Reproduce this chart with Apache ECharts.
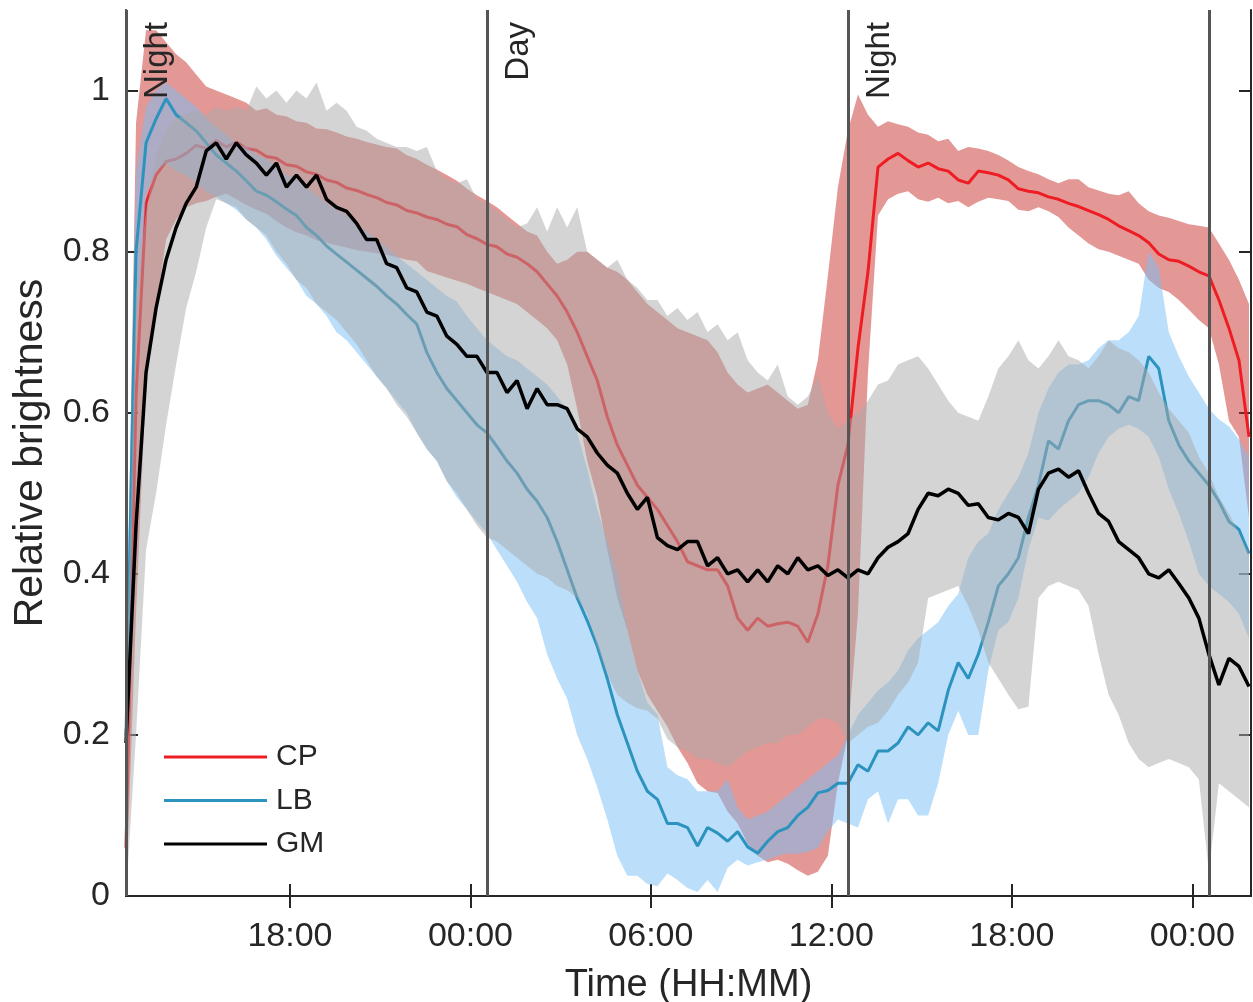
<!DOCTYPE html>
<html><head><meta charset="utf-8">
<script src="https://cdn.jsdelivr.net/npm/echarts@6/dist/echarts.min.js"></script>
<style>html,body{margin:0;padding:0;background:#fff}#c{width:1253px;height:1002px}</style>
</head><body><div id="c"></div>
<script>
// time grid: minutes since midnight of day 1, one sample every 20 min from 12:33
const T0 = 753, STEP = 20, N = 113;
const xMin = 753, xMax = 2997;
const xTickValues = [1080, 1440, 1800, 2160, 2520, 2880];
const xTickLabels = ['18:00', '00:00', '06:00', '12:00', '18:00', '00:00'];
const yTickValues = [0, 0.2, 0.4, 0.6, 0.8, 1];
const transitionTimes = [753, 1473, 2193, 2913];
const transitionLabels = ['Night', 'Day', 'Night', ''];

const cpMean = [0.06,0.62,0.86,0.895,0.912,0.915,0.922,0.932,0.928,0.938,
0.93,0.936,0.928,0.926,0.918,0.916,0.908,0.906,0.899,0.896,
0.889,0.886,0.879,0.876,0.871,0.867,0.861,0.858,0.851,0.848,
0.843,0.84,0.834,0.831,0.821,0.816,0.809,0.806,0.797,0.793,
0.785,0.775,0.76,0.745,0.725,0.70,0.67,0.64,0.595,0.56,
0.535,0.51,0.495,0.48,0.46,0.44,0.415,0.41,0.405,0.405,
0.385,0.345,0.33,0.345,0.335,0.338,0.34,0.335,0.315,0.35,
0.41,0.51,0.56,0.68,0.775,0.905,0.915,0.922,0.913,0.905,
0.91,0.903,0.90,0.889,0.885,0.90,0.898,0.895,0.889,0.878,
0.875,0.873,0.868,0.865,0.86,0.856,0.851,0.846,0.84,0.832,
0.826,0.82,0.811,0.797,0.79,0.788,0.782,0.775,0.77,0.74,
0.705,0.665,0.57];
const cpUp = [0.25,0.96,1.075,1.075,1.06,1.045,1.035,1.02,1.005,1.0,
0.995,0.99,0.985,0.975,0.978,0.97,0.968,0.962,0.96,0.953,
0.952,0.948,0.943,0.94,0.936,0.933,0.93,0.928,0.92,0.915,
0.908,0.902,0.895,0.888,0.878,0.87,0.863,0.855,0.845,0.835,
0.825,0.82,0.80,0.785,0.79,0.80,0.80,0.79,0.78,0.775,
0.765,0.75,0.735,0.725,0.715,0.705,0.70,0.695,0.69,0.675,
0.65,0.635,0.625,0.63,0.635,0.625,0.615,0.605,0.61,0.665,
0.77,0.88,0.95,0.995,0.97,0.955,0.962,0.958,0.955,0.948,
0.945,0.937,0.94,0.925,0.93,0.928,0.925,0.92,0.913,0.905,
0.90,0.896,0.89,0.885,0.89,0.89,0.88,0.876,0.872,0.87,
0.875,0.86,0.85,0.845,0.842,0.838,0.834,0.832,0.83,0.81,
0.79,0.765,0.735];
const cpLo = [0.0,0.35,0.64,0.73,0.815,0.84,0.855,0.86,0.863,0.868,
0.872,0.865,0.858,0.852,0.847,0.838,0.83,0.824,0.82,0.814,
0.811,0.808,0.805,0.802,0.80,0.798,0.796,0.793,0.79,0.788,
0.776,0.772,0.768,0.764,0.76,0.755,0.75,0.745,0.74,0.735,
0.725,0.715,0.705,0.69,0.66,0.605,0.54,0.495,0.43,0.37,
0.33,0.28,0.25,0.23,0.21,0.185,0.165,0.14,0.13,0.128,
0.105,0.09,0.065,0.05,0.042,0.045,0.04,0.032,0.025,0.03,
0.05,0.14,0.2,0.35,0.65,0.845,0.865,0.872,0.875,0.865,
0.862,0.867,0.86,0.863,0.855,0.862,0.867,0.865,0.863,0.852,
0.85,0.855,0.85,0.843,0.83,0.82,0.81,0.803,0.80,0.795,
0.79,0.785,0.765,0.755,0.75,0.74,0.728,0.715,0.705,0.66,
0.59,0.57,0.47];

const lbMean = [0.2,0.80,0.935,0.965,0.99,0.97,0.96,0.95,0.935,0.92,
0.91,0.90,0.888,0.875,0.87,0.862,0.853,0.845,0.83,0.82,
0.807,0.797,0.787,0.777,0.767,0.757,0.745,0.735,0.722,0.71,
0.675,0.65,0.63,0.615,0.60,0.585,0.575,0.558,0.54,0.525,
0.505,0.49,0.47,0.44,0.405,0.37,0.342,0.31,0.27,0.225,
0.19,0.155,0.13,0.12,0.09,0.09,0.085,0.062,0.085,0.078,
0.068,0.08,0.061,0.053,0.068,0.08,0.085,0.1,0.11,0.128,
0.131,0.14,0.14,0.163,0.155,0.18,0.18,0.19,0.21,0.20,
0.215,0.205,0.255,0.29,0.27,0.30,0.34,0.385,0.40,0.42,
0.47,0.51,0.565,0.555,0.59,0.61,0.615,0.615,0.61,0.60,
0.62,0.615,0.67,0.655,0.59,0.56,0.54,0.525,0.51,0.49,
0.465,0.455,0.425];
const lbUp = [0.3,0.90,0.98,1.0,1.01,1.0,0.99,0.98,0.965,0.955,
0.945,0.935,0.93,0.92,0.915,0.905,0.895,0.89,0.88,0.87,
0.86,0.852,0.845,0.835,0.825,0.815,0.805,0.795,0.785,0.775,
0.765,0.755,0.745,0.738,0.72,0.705,0.69,0.68,0.67,0.665,
0.655,0.645,0.635,0.62,0.605,0.575,0.53,0.48,0.44,0.40,
0.33,0.28,0.24,0.225,0.16,0.15,0.145,0.13,0.13,0.13,
0.145,0.11,0.095,0.10,0.105,0.115,0.125,0.135,0.145,0.155,
0.165,0.175,0.2,0.225,0.24,0.255,0.265,0.28,0.305,0.32,
0.33,0.34,0.36,0.375,0.42,0.44,0.45,0.48,0.50,0.52,
0.55,0.60,0.63,0.65,0.66,0.66,0.665,0.68,0.69,0.69,
0.70,0.72,0.80,0.78,0.70,0.67,0.645,0.625,0.605,0.592,
0.583,0.567,0.545];
const lbLo = [0.1,0.70,0.87,0.90,0.91,0.90,0.895,0.885,0.875,0.868,
0.86,0.852,0.84,0.83,0.815,0.795,0.78,0.765,0.745,0.735,
0.72,0.70,0.69,0.675,0.66,0.645,0.63,0.615,0.60,0.575,
0.555,0.54,0.515,0.495,0.48,0.465,0.45,0.43,0.41,0.39,
0.365,0.345,0.30,0.27,0.245,0.20,0.17,0.135,0.095,0.05,
0.025,0.025,0.015,0.012,0.028,0.02,0.01,0.005,0.02,0.005,
0.035,0.045,0.038,0.042,0.045,0.05,0.053,0.052,0.055,0.06,
0.08,0.095,0.09,0.085,0.12,0.13,0.09,0.12,0.12,0.10,
0.10,0.14,0.20,0.23,0.20,0.20,0.28,0.33,0.34,0.37,
0.43,0.47,0.466,0.48,0.49,0.50,0.52,0.55,0.57,0.58,
0.585,0.58,0.57,0.545,0.505,0.475,0.44,0.40,0.385,0.375,
0.365,0.35,0.32];

const gmMean = [0.19,0.46,0.65,0.73,0.79,0.83,0.86,0.88,0.925,0.935,
0.915,0.935,0.92,0.91,0.895,0.91,0.88,0.895,0.88,0.895,
0.865,0.855,0.85,0.835,0.815,0.815,0.785,0.78,0.755,0.75,
0.725,0.72,0.695,0.685,0.67,0.67,0.65,0.65,0.625,0.64,
0.605,0.63,0.61,0.61,0.605,0.58,0.57,0.55,0.535,0.525,
0.50,0.48,0.495,0.445,0.435,0.43,0.44,0.44,0.41,0.42,
0.40,0.405,0.39,0.405,0.39,0.41,0.40,0.42,0.405,0.41,
0.398,0.405,0.395,0.405,0.40,0.42,0.433,0.44,0.45,0.48,
0.50,0.497,0.505,0.50,0.485,0.487,0.47,0.467,0.475,0.47,
0.45,0.505,0.525,0.53,0.52,0.528,0.50,0.475,0.465,0.44,
0.43,0.42,0.40,0.395,0.405,0.388,0.37,0.345,0.30,0.262,
0.295,0.285,0.26];
const gmUp = [0.25,0.75,0.85,0.92,0.95,0.965,0.97,0.975,0.97,0.98,
0.975,0.98,0.975,1.005,0.99,1.0,0.985,1.0,0.99,1.01,
0.975,0.985,0.975,0.955,0.95,0.94,0.935,0.93,0.93,0.925,
0.93,0.90,0.89,0.885,0.89,0.865,0.86,0.85,0.84,0.83,
0.835,0.855,0.825,0.855,0.83,0.855,0.80,0.79,0.78,0.79,
0.765,0.755,0.74,0.74,0.72,0.73,0.715,0.725,0.70,0.71,
0.69,0.70,0.665,0.65,0.64,0.66,0.62,0.61,0.62,0.645,
0.60,0.58,0.59,0.60,0.615,0.635,0.64,0.66,0.665,0.67,
0.655,0.635,0.615,0.60,0.595,0.59,0.62,0.655,0.67,0.69,
0.665,0.655,0.67,0.69,0.67,0.665,0.655,0.67,0.69,0.68,
0.675,0.665,0.65,0.625,0.605,0.59,0.575,0.545,0.525,0.495,
0.475,0.45,0.425];
const gmLo = [0.0,0.2,0.43,0.50,0.585,0.66,0.73,0.775,0.83,0.865,
0.86,0.855,0.84,0.83,0.82,0.80,0.785,0.765,0.755,0.735,
0.725,0.715,0.70,0.685,0.665,0.645,0.63,0.61,0.595,0.575,
0.555,0.54,0.515,0.50,0.48,0.46,0.445,0.44,0.43,0.42,
0.41,0.40,0.395,0.385,0.38,0.37,0.35,0.31,0.275,0.25,
0.24,0.233,0.23,0.22,0.195,0.185,0.18,0.17,0.17,0.165,
0.16,0.17,0.18,0.185,0.19,0.19,0.2,0.2,0.21,0.22,
0.22,0.215,0.19,0.2,0.21,0.215,0.23,0.25,0.265,0.29,
0.37,0.375,0.38,0.385,0.36,0.33,0.29,0.27,0.25,0.232,
0.235,0.37,0.385,0.39,0.385,0.38,0.36,0.30,0.25,0.225,
0.19,0.17,0.16,0.165,0.17,0.165,0.16,0.145,0.03,0.14,
0.13,0.12,0.11];

const times = Array.from({length: N}, (_, i) => T0 + i * STEP);
const FONT = '"Liberation Sans", Arial, Helvetica, sans-serif';
const TXT = '#262626';

function pairs(arr) { return times.map((t, i) => [t, arr[i]]); }
function band(lo, up, color, z) {
  return {
    type: 'custom', z: z, silent: true, clip: true,
    data: [[times[0], lo[0]]],
    renderItem: function (params, api) {
      const pts = [];
      for (let i = 0; i < N; i++) pts.push(api.coord([times[i], up[i]]));
      for (let i = N - 1; i >= 0; i--) pts.push(api.coord([times[i], lo[i]]));
      return {type: 'polygon', shape: {points: pts}, style: {fill: color}};
    }
  };
}
function meanLine(name, arr, color, width, z) {
  return {type: 'line', name: name, data: pairs(arr), symbol: 'none',
    lineStyle: {color: color, width: width}, itemStyle: {color: color}, z: z, silent: true};
}

const series = [
  band(cpLo, cpUp, 'rgba(200,50,45,0.5)', 2),
  meanLine('CP', cpMean, '#ee1d23', 3, 3),
  band(lbLo, lbUp, 'rgba(120,190,245,0.5)', 4),
  meanLine('LB', lbMean, '#2c93be', 3, 5),
  band(gmLo, gmUp, 'rgba(170,170,170,0.5)', 6),
  meanLine('GM', gmMean, '#000000', 3.5, 7)
];
series.push({
  type: 'line', name: 'transitions', data: [], silent: true,
  markLine: {
    z: 20, silent: true, symbol: ['none', 'none'], animation: false,
    lineStyle: {color: '#555555', width: 3, type: 'solid'},
    label: {show: true, position: 'insideEndBottom', distance: [12, 15],
      fontSize: 33, color: TXT, fontFamily: FONT,
      formatter: p => p.name},
    emphasis: {disabled: true},
    data: transitionTimes.map((t, i) => ({xAxis: t, name: transitionLabels[i]}))
  }
});

const axisLineStyle = {color: TXT, width: 2};
const chart = echarts.init(document.getElementById('c'), null, {renderer: 'canvas'});
chart.setOption({
  animation: false,
  backgroundColor: '#ffffff',
  grid: {left: 126, right: 2, top: 10, bottom: 106, containLabel: false, outerBoundsMode: 'none'},
  legend: {
    data: ['CP', 'LB', 'GM'], orient: 'vertical', left: 159, top: 737,
    icon: 'rect', itemWidth: 103, itemHeight: 3, itemGap: 13.5, selectedMode: false,
    textStyle: {fontSize: 30, color: TXT, fontFamily: FONT, padding: [0, 0, 0, 4], lineHeight: 30}
  },
  xAxis: [
    {type: 'value', min: xMin, max: xMax, position: 'bottom',
     name: 'Time (HH:MM)', nameLocation: 'middle', nameGap: 71,
     nameTextStyle: {fontSize: 38, color: TXT, fontFamily: FONT},
     axisLine: {show: true, lineStyle: axisLineStyle},
     axisTick: {show: true, inside: true, length: 12, customValues: xTickValues, lineStyle: axisLineStyle},
     axisLabel: {show: true, customValues: xTickValues, margin: 24, fontSize: 34, color: TXT, fontFamily: FONT,
       formatter: v => xTickLabels[xTickValues.indexOf(v)] || ''},
     splitLine: {show: false}},
    {type: 'value', min: xMin, max: xMax, position: 'top',
     axisLine: {show: true, lineStyle: axisLineStyle},
     axisTick: {show: true, inside: true, length: 12, customValues: xTickValues, lineStyle: axisLineStyle},
     axisLabel: {show: false}, splitLine: {show: false}}
  ],
  yAxis: [
    {type: 'value', min: 0, max: 1.1, position: 'left',
     name: 'Relative brightness', nameLocation: 'middle', nameGap: 75,
     nameTextStyle: {fontSize: 41, color: TXT, fontFamily: FONT},
     axisLine: {show: true, lineStyle: axisLineStyle},
     axisTick: {show: true, inside: true, length: 12, customValues: yTickValues, lineStyle: axisLineStyle},
     axisLabel: {show: true, customValues: yTickValues, margin: 16, fontSize: 34, color: TXT, fontFamily: FONT,
       formatter: v => String(v)},
     splitLine: {show: false}},
    {type: 'value', min: 0, max: 1.1, position: 'right',
     axisLine: {show: true, lineStyle: axisLineStyle},
     axisTick: {show: true, inside: true, length: 12, customValues: yTickValues, lineStyle: axisLineStyle},
     axisLabel: {show: false}, splitLine: {show: false}}
  ],
  series: series
});
</script>
</body></html>
